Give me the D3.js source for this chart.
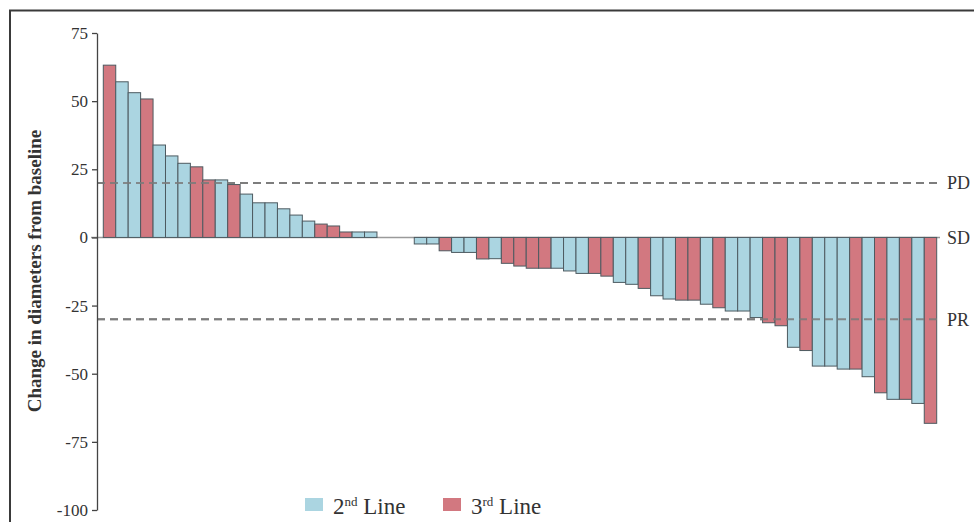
<!DOCTYPE html>
<html>
<head>
<meta charset="utf-8">
<script src="https://cdn.jsdelivr.net/npm/d3@7"></script>
<style>
  html, body { margin: 0; padding: 0; background: #fff; }
  svg, svg text { font-family: "Liberation Serif", "DejaVu Serif", serif !important; }
  svg { display: block; }
</style>
</head>
<body>
<svg id="chart" width="974" height="522"></svg>
<script>
// ---- data ----
const values = [
  63.2, 57.1, 53.1, 50.8, 33.9, 29.9, 27.2, 25.9, 21.1, 21.1,
  19.4, 15.9, 12.7, 12.7, 10.5, 8.2, 6.0, 4.9, 4.2, 2.0,
  2.0, 2.0, 0, 0, 0,
  -2.4, -2.4, -4.9, -5.5, -5.5, -7.9, -7.8, -9.5, -10.5, -11.3,
  -11.3, -11.3, -12.3, -13.2, -13.2, -14.2, -16.5, -17.2, -18.7, -21.4,
  -22.6, -23.0, -23.0, -24.5, -25.8, -27.0, -27.0, -29.4, -31.3, -32.4,
  -40.3, -41.5, -47.2, -47.2, -48.3, -48.3, -51.1, -57.0, -59.4, -59.4,
  -60.9, -68.2
];
const groups = [
  "3rd", "2nd", "2nd", "3rd", "2nd", "2nd", "2nd", "3rd", "3rd", "2nd",
  "3rd", "2nd", "2nd", "2nd", "2nd", "2nd", "2nd", "3rd", "3rd", "3rd",
  "2nd", "2nd", "2nd", "2nd", "2nd",
  "2nd", "2nd", "3rd", "2nd", "2nd", "3rd", "2nd", "3rd", "3rd", "3rd",
  "3rd", "2nd", "2nd", "2nd", "3rd", "3rd", "2nd", "2nd", "3rd", "2nd",
  "2nd", "3rd", "3rd", "2nd", "3rd", "2nd", "2nd", "2nd", "3rd", "3rd",
  "2nd", "3rd", "2nd", "2nd", "2nd", "3rd", "2nd", "3rd", "2nd", "3rd",
  "2nd", "3rd"
];
const yTicks = [75, 50, 25, 0, -25, -50, -75, -100];
const refLines = [
  { label: "PD", value: 20, dashed: true },
  { label: "SD", value: 0, dashed: false },
  { label: "PR", value: -30, dashed: true }
];
const legendItems = [
  { key: "2nd", num: "2", sup: "nd", text: " Line" },
  { key: "3rd", num: "3", sup: "rd", text: " Line" }
];
const colors = { "2nd": "#abd5e1", "3rd": "#d27880" };

// ---- chart ----
const svg = d3.select("#chart");

// outer frame (only top and left edges visible)
svg.append("rect")
  .attr("x", 10).attr("y", 10.5)
  .attr("width", 1200).attr("height", 800)
  .attr("fill", "none").attr("stroke", "#3a3a3a").attr("stroke-width", 2);

const y = d3.scaleLinear().domain([-100, 75]).range([510, 33]);
const x = d3.scaleBand()
  .domain(d3.range(values.length))
  .range([103.3, 936.7])
  .padding(0);

// reference lines (drawn under bars)
const xAxisPos = 97;
svg.selectAll("line.ref")
  .data(refLines)
  .join("line")
  .attr("class", "ref")
  .attr("x1", d => d.dashed ? xAxisPos : 91)
  .attr("x2", 940)
  .attr("y1", d => y(d.value))
  .attr("y2", d => y(d.value))
  .attr("stroke", d => d.dashed ? "#8a8a8a" : "#9a9a9a")
  .attr("stroke-width", d => d.dashed ? 2 : 1.6)
  .attr("stroke-dasharray", d => d.dashed ? "8,5" : null);

// bars
svg.selectAll("rect.bar")
  .data(values.map((v, i) => ({ v, i, g: groups[i] })).filter(d => d.v !== 0))
  .join("rect")
  .attr("class", "bar")
  .attr("x", d => x(d.i))
  .attr("width", x.bandwidth())
  .attr("y", d => y(Math.max(0, d.v)))
  .attr("height", d => Math.abs(y(d.v) - y(0)))
  .attr("fill", d => colors[d.g])
  .attr("stroke", "#4d5a60")
  .attr("stroke-width", 1);

// redraw dashed lines above bars (they appear through the bars)
svg.selectAll("line.ref2")
  .data(refLines.filter(d => d.dashed))
  .join("line")
  .attr("class", "ref2")
  .attr("x1", xAxisPos)
  .attr("x2", 940)
  .attr("y1", d => y(d.value))
  .attr("y2", d => y(d.value))
  .attr("stroke", "#7a7a7a")
  .attr("stroke-opacity", 0.85)
  .attr("stroke-width", 2)
  .attr("stroke-dasharray", "8,5");

// ref labels
svg.selectAll("text.reflabel")
  .data(refLines)
  .join("text")
  .attr("class", "reflabel")
  .attr("x", 947)
  .attr("y", d => y(d.value))
  .attr("dy", "0.35em")
  .attr("font-size", 18)
  .attr("fill", "#333")
  .text(d => d.label);

// y axis
const yAxis = d3.axisLeft(y).tickValues(yTicks).tickFormat(d => String(d))
  .tickSize(5).tickPadding(4).tickSizeOuter(0);
const gy = svg.append("g").attr("transform", `translate(${xAxisPos},0)`).call(yAxis);
gy.attr("font-family", null).attr("font-size", 17);
gy.select(".domain").attr("stroke", "#444").attr("stroke-width", 1.3);
gy.selectAll(".tick line").attr("stroke", "#444").attr("stroke-width", 1.3);
gy.selectAll(".tick text")
  .style("font-family", "'Liberation Serif', 'DejaVu Serif', serif")
  .attr("font-size", 17)
  .attr("fill", "#333");

// y label
svg.append("text")
  .attr("transform", "translate(41,271) rotate(-90)")
  .attr("text-anchor", "middle")
  .attr("font-size", 19)
  .attr("font-weight", "bold")
  .attr("fill", "#333")
  .text("Change in diameters from baseline");

// legend
const legendX = [305, 443];
legendItems.forEach((item, k) => {
  const g = svg.append("g").attr("transform", `translate(${legendX[k]},0)`);
  g.append("rect")
    .attr("x", 0).attr("y", 498).attr("width", 18).attr("height", 13)
    .attr("fill", colors[item.key]);
  const t = g.append("text")
    .attr("x", 28).attr("y", 514)
    .attr("font-size", 23)
    .attr("fill", "#333");
  t.append("tspan").text(item.num);
  t.append("tspan").attr("font-size", 13).attr("dy", -8).text(item.sup);
  t.append("tspan").attr("dy", 8).text(item.text);
});
</script>
</body>
</html>
